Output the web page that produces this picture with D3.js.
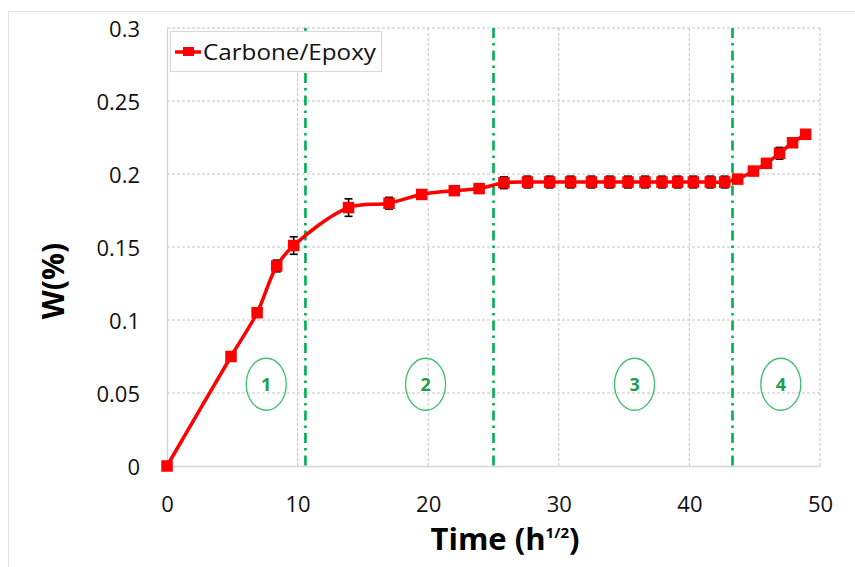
<!DOCTYPE html>
<html><head><meta charset="utf-8">
<script src="https://cdn.jsdelivr.net/npm/d3@7"></script>
<style>body{margin:0;background:#fff}svg{display:block;font-family:"Open Sans",sans-serif}</style>
</head><body><svg id="c" width="855" height="567"></svg>
<script>
const seriesName = "Carbone/Epoxy";
const time = [0, 4.9, 6.9, 8.4, 9.7, 13.9, 17.0, 19.5, 22.0, 23.9, 25.8, 27.6, 29.3, 30.9, 32.5, 33.9, 35.3, 36.6, 37.9, 39.1, 40.3, 41.6, 42.7, 43.7, 44.9, 45.9, 46.9, 47.9, 48.9];
const wPct = [0, 0.075, 0.105, 0.137, 0.151, 0.177, 0.180, 0.186, 0.1886, 0.190, 0.1940, 0.1945, 0.1945, 0.1945, 0.1945, 0.1945, 0.1945, 0.1945, 0.1945, 0.1945, 0.1945, 0.1945, 0.1945, 0.1965, 0.202, 0.2073, 0.2142, 0.2214, 0.2272];
const wErr = [0, 0, 0, 0.004, 0.006, 0.006, 0.004, 0.003, 0.002, 0.002, 0.004, 0.004, 0.004, 0.004, 0.004, 0.004, 0.004, 0.004, 0.004, 0.004, 0.004, 0.004, 0.004, 0.002, 0.002, 0.003, 0.004, 0.002, 0.002];
const xTicks = [0, 10, 20, 30, 40, 50];
const yTicks = [0, 0.05, 0.1, 0.15, 0.2, 0.25, 0.3];
const stageBounds = [10.6, 25, 43.3];
const stageLabels = ["1", "2", "3", "4"];
const stageCenters = [7.6, 19.8, 35.8, 47.0];
const stageY = 0.056;

const svg = d3.select("#c");
const x = d3.scaleLinear().domain([0, 50]).range([167, 820]);
const y = d3.scaleLinear().domain([0, 0.3]).range([466, 28]);
const green = "#00b050";

// chart frame
svg.append("rect").attr("x", 8.5).attr("y", 11.5).attr("width", 900).attr("height", 600)
  .attr("fill", "none").attr("stroke", "#e3e3e3");

// gridlines
const g = svg.append("g");
g.selectAll(".hg").data(yTicks.filter(d => d > 0)).join("line")
  .attr("x1", x(0)).attr("x2", x(50)).attr("y1", d => y(d)).attr("y2", d => y(d))
  .attr("stroke", "#c4c4c4").attr("stroke-dasharray", "3,2");
g.selectAll(".vg").data(xTicks.filter(d => d > 0)).join("line")
  .attr("y1", y(0)).attr("y2", y(0.3)).attr("x1", d => x(d)).attr("x2", d => x(d))
  .attr("stroke", "#c4c4c4").attr("stroke-dasharray", "3,2");

// axes
const xa = svg.append("g").attr("transform", `translate(0,${y(0)})`)
  .call(d3.axisBottom(x).tickValues(xTicks).tickSize(0).tickPadding(30).tickFormat(d3.format("d")));
const ya = svg.append("g").attr("transform", `translate(${x(0)},0)`)
  .call(d3.axisLeft(y).tickValues(yTicks).tickSize(0).tickPadding(27).tickFormat(d => d === 0 ? "0" : String(d)));
[xa, ya].forEach(a => {
  a.select(".domain").attr("stroke", "#d4d4d4").attr("stroke-width", 1.3);
  a.selectAll("text").attr("font-family", "Open Sans").attr("font-size", 22).attr("fill", "#111");
});
ya.selectAll("text").attr("dy", "0.38em");

// stage lines
svg.selectAll(".stage").data(stageBounds).join("line")
  .attr("x1", d => x(d)).attr("x2", d => x(d)).attr("y1", y(0.3)).attr("y2", y(0))
  .attr("stroke", green).attr("stroke-width", 2.6).attr("stroke-dasharray", "10,5,2.5,5");

// stage ellipses
const st = svg.selectAll(".st").data(stageLabels).join("g")
  .attr("transform", (d, i) => `translate(${x(stageCenters[i])},${y(stageY)})`);
st.append("ellipse").attr("rx", 20).attr("ry", 26).attr("fill", "none").attr("stroke", "#3cbf6e").attr("stroke-width", 1.3);
st.append("text").text(d => d).attr("text-anchor", "middle").attr("dy", "0.36em")
  .attr("font-size", 18).attr("font-weight", "bold").attr("fill", "#1aa050");

const pts = time.map((t, i) => ({t, w: wPct[i], e: wErr[i]}));

// error bars
const eb = svg.append("g").attr("stroke", "#000").attr("stroke-width", 1.6);
pts.filter(d => d.e > 0).forEach(d => {
  eb.append("line").attr("x1", x(d.t)).attr("x2", x(d.t)).attr("y1", y(d.w - d.e)).attr("y2", y(d.w + d.e));
  [d.w - d.e, d.w + d.e].forEach(v => eb.append("line").attr("x1", x(d.t) - 4).attr("x2", x(d.t) + 4).attr("y1", y(v)).attr("y2", y(v)));
});

// line
svg.append("path").datum(pts)
  .attr("d", d3.line().x(d => x(d.t)).y(d => y(d.w)).curve(d3.curveCatmullRom.alpha(0.5)))
  .attr("fill", "none").attr("stroke", "#ff0000").attr("stroke-width", 3.5);

// markers
const ms = 11.5;
svg.selectAll(".m").data(pts).join("rect")
  .attr("x", d => x(d.t) - ms / 2).attr("y", d => y(d.w) - ms / 2).attr("width", ms).attr("height", ms)
  .attr("fill", "#ff0000");

// legend
const lg = svg.append("g");
lg.append("rect").attr("x", 170.5).attr("y", 31.5).attr("width", 211).attr("height", 40)
  .attr("fill", "#fff").attr("stroke", "#d9d9d9").attr("stroke-width", 1.2);
lg.append("line").attr("x1", 175).attr("x2", 201).attr("y1", 52).attr("y2", 52).attr("stroke", "#ff0000").attr("stroke-width", 3.5);
lg.append("rect").attr("x", 183).attr("y", 47).attr("width", 11).attr("height", 9).attr("fill", "#ff0000");
lg.append("text").attr("x", 203).attr("y", 59.5).text(seriesName)
  .attr("font-size", 22).attr("fill", "#111").attr("textLength", 173).attr("lengthAdjust", "spacingAndGlyphs");

// titles
const xt = svg.append("text").attr("x", 505).attr("y", 550).attr("text-anchor", "middle")
  .attr("font-size", 31).attr("font-weight", "bold").attr("fill", "#000");
xt.append("tspan").text("Time (h");
xt.append("tspan").text("1/2").attr("font-size", 15).attr("dy", -12);
xt.append("tspan").text(")").attr("dy", 12);

svg.append("text").attr("transform", "translate(64,281) rotate(-90)").attr("text-anchor", "middle")
  .attr("font-size", 30).attr("font-weight", "bold").attr("fill", "#000").text("W(%)");
</script></body></html>
